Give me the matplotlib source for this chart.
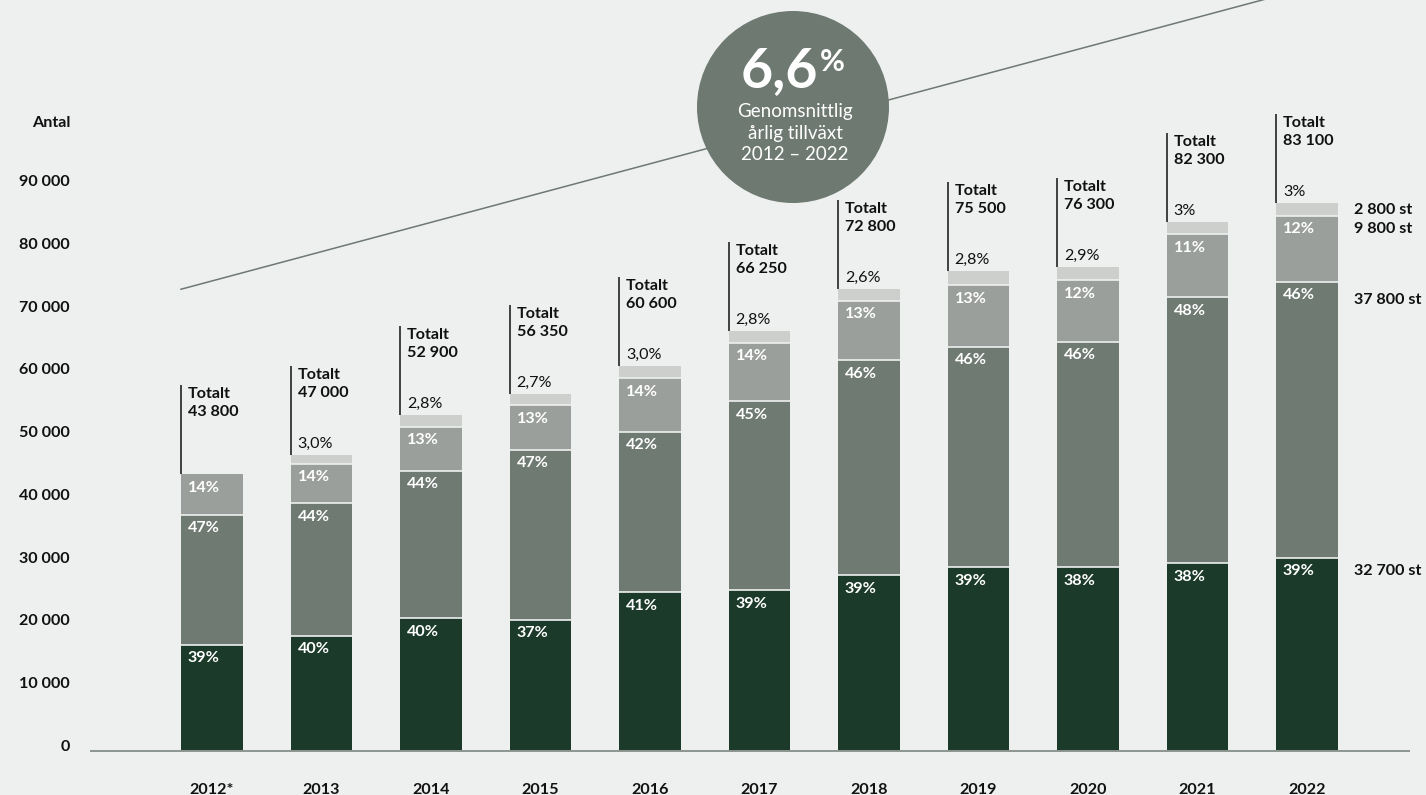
import matplotlib
matplotlib.use("Agg")
import matplotlib.pyplot as plt
from matplotlib.patches import Ellipse
import numpy as np

# ---------------- data ----------------
years = ["2012*", "2013", "2014", "2015", "2016", "2017", "2018", "2019", "2020", "2021", "2022"]
seg_dark = [16900, 18340, 21100, 20850, 25260, 25600, 28000, 29250, 29250, 29900, 30800]
seg_mid = [20740, 21120, 23560, 27110, 25620, 30100, 34260, 35150, 35950, 42400, 44000]
seg_light = [6490, 6340, 7040, 7140, 8520, 9370, 9540, 9800, 9800, 10100, 10500]
seg_lightest = [0, 1360, 1800, 1750, 1960, 1870, 1800, 2300, 2100, 2000, 2000]

pct_dark = ["39%", "40%", "40%", "37%", "41%", "39%", "39%", "39%", "38%", "38%", "39%"]
pct_mid = ["47%", "44%", "44%", "47%", "42%", "45%", "46%", "46%", "46%", "48%", "46%"]
pct_light = ["14%", "14%", "13%", "13%", "14%", "14%", "13%", "13%", "12%", "11%", "12%"]
pct_lightest = ["", "3,0%", "2,8%", "2,7%", "3,0%", "2,8%", "2,6%", "2,8%", "2,9%", "3%", "3%"]
totals = ["43 800", "47 000", "52 900", "56 350", "60 600", "66 250",
          "72 800", "75 500", "76 300", "82 300", "83 100"]

ytick_values = [0, 10000, 20000, 30000, 40000, 50000, 60000, 70000, 80000, 90000]
ytick_labels = ["0", "10 000", "20 000", "30 000", "40 000", "50 000",
                "60 000", "70 000", "80 000", "90 000"]
right_labels = ["2 800 st", "9 800 st", "37 800 st", "32 700 st"]

growth_big = "6,6"
growth_lines = ["Genomsnittlig", "årlig tillväxt", "2012 – 2022"]

# ---------------- style ----------------
BG = "#eef0ef"
C_DARK = "#1b3a2a"
C_MID = "#6f7a73"
C_LIGHT = "#9b9f9c"
C_LIGHTEST = "#cdcfcd"
C_CIRCLE = "#6e7972"
TXT = "#111111"
FS = 11.6
FONT = ["Lato", "DejaVu Sans"]
plt.rcParams["font.family"] = FONT

W, H = 1426, 795
fig = plt.figure(figsize=(W / 100, H / 100), dpi=100, facecolor=BG)
px = 1 / W
py = 1 / H
ax_left, ax_right = 90.7, 1409
ax_bottom_px = 750.7
ylim_top = 120000
px_per_unit = 6.27 / 1000
ax_h = ylim_top * px_per_unit
ax = fig.add_axes([ax_left * px, (H - ax_bottom_px) * py, (ax_right - ax_left) * px, ax_h * py])
ax.set_facecolor(BG)

x = np.arange(len(years))
bar_w = 0.566
ax.set_xlim((ax_left - 212) / 109.5, (ax_right - 212) / 109.5)
ax.set_ylim(0, ylim_top)

dark = np.array(seg_dark, float)
mid = np.array(seg_mid, float)
light = np.array(seg_light, float)
lightest = np.array(seg_lightest, float)
b1 = dark
b2 = dark + mid
b3 = b2 + light
top = b3 + lightest

ax.bar(x, dark, bar_w, color=C_DARK, zorder=2)
ax.bar(x, mid, bar_w, bottom=b1, color=C_MID, zorder=2)
ax.bar(x, light, bar_w, bottom=b2, color=C_LIGHT, zorder=2)
ax.bar(x, lightest, bar_w, bottom=b3, color=C_LIGHTEST, zorder=2)

# separator lines
for i in range(len(x)):
    bounds = [b1[i], b2[i]] + ([b3[i]] if lightest[i] > 0 else [])
    for b in bounds:
        ax.plot([x[i] - bar_w / 2, x[i] + bar_w / 2], [b, b], color=BG, lw=1.2,
                zorder=3, solid_capstyle="butt")

# in-bar labels
def seg_label(xi, yv, txt):
    ax.annotate(txt, (xi - bar_w / 2, yv), xytext=(7, -13.5), textcoords="offset pixels",
                ha="left", va="center", color="white", fontsize=FS, fontweight="bold", zorder=4)

for i in range(len(x)):
    seg_label(x[i], b1[i], pct_dark[i])
    seg_label(x[i], b2[i], pct_mid[i])
    seg_label(x[i], b3[i], pct_light[i])
    left = x[i] - bar_w / 2
    if pct_lightest[i]:
        ax.annotate(pct_lightest[i], (left, top[i]), xytext=(7, 11), textcoords="offset pixels",
                    ha="left", va="center", color=TXT, fontsize=FS, zorder=4)
    # vertical line + total
    line_top = top[i] + 89 / px_per_unit
    ax.plot([left, left], [top[i], line_top], color=TXT, lw=1.1, zorder=3,
            solid_capstyle="butt")
    ax.annotate("Totalt", (left, line_top), xytext=(7, -9), textcoords="offset pixels",
                ha="left", va="center", color=TXT, fontsize=FS, fontweight="bold")
    ax.annotate(totals[i], (left, line_top), xytext=(7, -27), textcoords="offset pixels",
                ha="left", va="center", color=TXT, fontsize=FS, fontweight="bold")

# right side labels for 2022
last = len(x) - 1
rx = x[last] + bar_w / 2
right_anchor = [(b3[last] + top[last]) / 2, b3[last], b2[last], b1[last]]
right_dy = [0, -13.5, -18, -13.5]
for lab, yy, dy in zip(right_labels, right_anchor, right_dy):
    ax.annotate(lab, (rx, yy), xytext=(16, dy), textcoords="offset pixels",
                ha="left", va="center", color=TXT, fontsize=FS, fontweight="bold")

# axes styling
for s in ["top", "right", "left"]:
    ax.spines[s].set_visible(False)
ax.spines["bottom"].set_color("#8d9590")
ax.spines["bottom"].set_linewidth(1.4)
ax.set_yticks(ytick_values)
ax.set_yticklabels(ytick_labels, fontsize=FS, fontweight="bold", color=TXT)
for lbl in ax.get_yticklabels():
    lbl.set_va("baseline")
ax.tick_params(axis="y", length=0, pad=14.9)
ax.set_xticks(x)
ax.set_xticklabels(years, fontsize=FS, fontweight="bold", color=TXT)
ax.tick_params(axis="x", length=0, pad=23)

fig.text(70 * px, 1 - 122.7 * py, "Antal", ha="right", va="center", fontsize=FS,
         fontweight="bold", color=TXT)

# trend line (decorative)
x0 = -bar_w / 2
y0 = 73600
slope = 0.2675 * 109.5 / px_per_unit
x1 = (1265 - 212) / 109.5
ax.plot([x0, x1], [y0, y0 + slope * (x1 - x0)], color=C_CIRCLE, lw=1.1, zorder=1,
        clip_on=False)

# growth circle
cx, cy, r = 793, 107, 96
fig.add_artist(Ellipse((cx * px, 1 - cy * py), 2 * r * px, 2 * r * py,
                       transform=fig.transFigure, facecolor=C_CIRCLE, edgecolor="none", zorder=5))
fig.text(818 * px, 1 - 71 * py, growth_big, ha="right", va="center", fontsize=40,
         fontweight="bold", color="white", zorder=6)
fig.text(820 * px, 1 - 62 * py, "%", ha="left", va="center", fontsize=22,
         fontweight="bold", color="white", zorder=6)
for line, yc in zip(growth_lines, [112, 134, 155]):
    fig.text(795 * px, 1 - yc * py, line, ha="center", va="center", fontsize=13.5,
             color="white", zorder=6)

fig.savefig("out.png", dpi=100, facecolor=BG)
